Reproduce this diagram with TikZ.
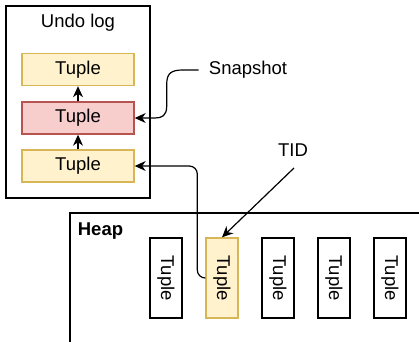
\documentclass[tikz,border=0pt]{standalone}
\usepackage{fontspec}
\setmainfont{Liberation Sans}
\usetikzlibrary{arrows.meta}
\definecolor{yfill}{HTML}{FFF2CC}
\definecolor{ydraw}{HTML}{D6B656}
\definecolor{rfill}{HTML}{F8CECC}
\definecolor{rdraw}{HTML}{B85450}
\begin{document}
\begin{tikzpicture}[x=1pt,y=-1pt,
  every node/.style={font=\fontsize{18.5}{21}\selectfont},
  frame/.style={draw=black,line width=1.4pt,fill=white},
  ytuple/.style={draw=ydraw,fill=yfill,line width=1.4pt,minimum width=112pt,minimum height=32pt,inner sep=0pt},
  rtuple/.style={draw=rdraw,fill=rfill,line width=1.4pt,minimum width=112pt,minimum height=32pt,inner sep=0pt},
  htuple/.style={draw=black,fill=white,line width=1.4pt,minimum width=32pt,minimum height=80pt,inner sep=0pt},
  hytuple/.style={htuple,draw=ydraw,fill=yfill},
  conn/.style={line width=1.2pt,-{Stealth[length=11pt,width=10pt,inset=3.5pt]}},
  lbl/.style={inner sep=1pt}]
\useasboundingbox (0,0) rectangle (419,341);
% Undo log
\node[frame,minimum width=144pt,minimum height=192pt,inner sep=0pt] (undo) at (78,102) {};
\node (undolbl) at (78,23) {Undo log};
\node[ytuple] (t1) at (78,69.5) {Tuple};
\node[rtuple] (t2) at (78,118) {Tuple};
\node[ytuple] (t3) at (78,166) {Tuple};
\draw[conn] (t2.north) -- (t1.south);
\draw[conn] (t3.north) -- (t2.south);
% Heap
\coordinate (hr) at (425,213);
\coordinate (htl) at (70,213);
\coordinate (hb) at (70,350);
\draw[line width=1.4pt] (hr) -- (htl) -- (hb);
\node[font=\fontsize{18.5}{21}\selectfont\bfseries] (heaplbl) at (100.5,231) {Heap};
\node[htuple] (h1) at (166,278) {\rotatebox{-90}{Tuple}};
\node[hytuple] (h2) at (222,278) {\rotatebox{-90}{Tuple}};
\node[htuple] (h3) at (278,278) {\rotatebox{-90}{Tuple}};
\node[htuple] (h4) at (334,278) {\rotatebox{-90}{Tuple}};
\node[htuple] (h5) at (390,278) {\rotatebox{-90}{Tuple}};
% Labels
\node[lbl,inner xsep=10pt] (snap) at (248,70) {Snapshot};
\node[lbl] (tid) at (293,150) {TID};
\coordinate (tidend) at (294,168);
% Connectors
\draw[conn] (snap.west) -- ++(-16,0) .. controls +(-11,0) and +(0,-11) .. ++(-16,14) -- ++(0,22) .. controls +(0,10) and +(7,0) .. ++(-12,12) -- (t2.east);
\draw[conn,rounded corners=8pt] (h2.west) -- ++(-8,0) |- (t3.east);
\draw[conn] (tidend) -- (h2.north);
\end{tikzpicture}
\end{document}
